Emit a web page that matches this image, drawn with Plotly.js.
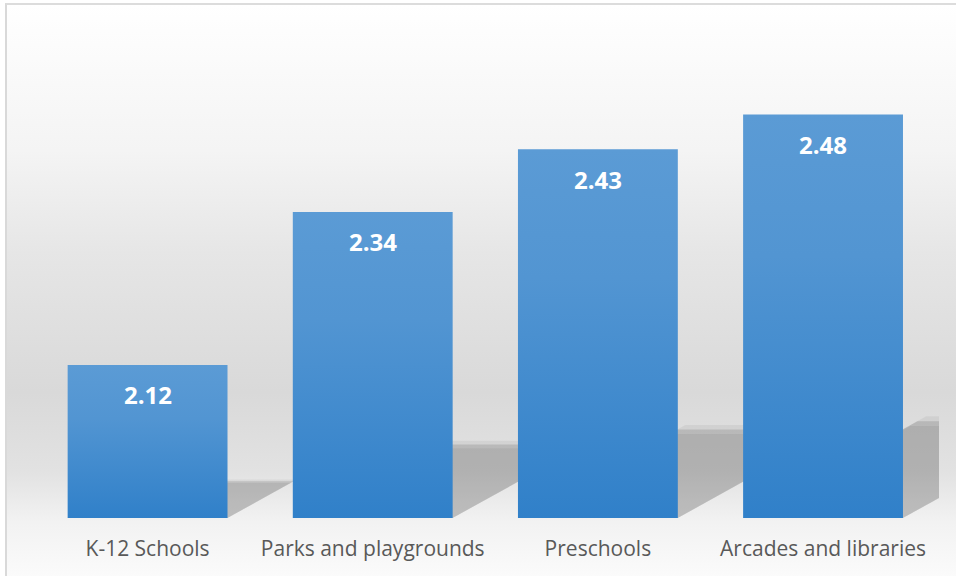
<!DOCTYPE html>
<html>
<head>
<meta charset="utf-8">
<script src="https://cdn.plot.ly/plotly-3.0.1.min.js"></script>
<style>
  html, body { margin: 0; padding: 0; background: #ffffff; }
  #frame {
    position: absolute; left: 5px; top: 3px; width: 951px; height: 573px;
    border-left: 2px solid #d9d9d9; border-top: 2px solid #dcdcdc;
    background: linear-gradient(to bottom,
      #ffffff 0px, #f4f4f4 145px, #e6e6e6 247px, #d9d9d9 387px,
      #e2e2e2 467px, #f2f2f2 517px, #fbfbfb 573px);
  }
  #chart { position: absolute; left: 0; top: 0; width: 956px; height: 576px; }
</style>
</head>
<body>
<div id="frame"></div>
<div id="chart"></div>
<script>
// ---- data ----
const categories = ["K-12 Schools", "Parks and playgrounds", "Preschools", "Arcades and libraries"];
const values = [2.12, 2.34, 2.43, 2.48];
const valueLabels = ["2.12", "2.34", "2.43", "2.48"];

// ---- layout constants ----
const axisMin = 1.9, axisMax = 2.6;
const barWidth = 0.71;
const xIdx = categories.map((_, i) => i);

const W = 956, H = 576;
const margin = {l: 35, r: 17, t: 31, b: 58};
const xRange = [-0.5, 3.515];
const pxPerX = (W - margin.l - margin.r) / (xRange[1] - xRange[0]);
const pxPerY = (H - margin.t - margin.b) / (axisMax - axisMin);

// perspective shadow polygons (decoration derived from the data)
const shapes = [];
const layers = [[1.0, 1.0, 0.12], [0.95, 0.96, 0.05], [1.05, 1.05, 0.05]];
values.forEach((v, i) => {
  const h = v - axisMin;
  const rise = 0.24 * h;
  const shiftPx = 1.8 * rise * pxPerY;
  const shift = shiftPx / pxPerX;
  const w = barWidth / 2;
  layers.forEach(([fr, fs, a]) => {
    const r = rise * fr, s = shift * fs;
    shapes.push({
      type: 'path', xref: 'x', yref: 'y', layer: 'below',
      path: `M ${i - w},${axisMin} L ${i + w},${axisMin} L ${i + w + s},${axisMin + r} L ${i - w + s},${axisMin + r} Z`,
      fillcolor: `rgba(0,0,0,${a})`, line: {width: 0}
    });
  });
});

const trace = {
  type: 'bar',
  x: xIdx,
  y: values.map(v => v - axisMin),
  base: values.map(() => axisMin),
  width: barWidth,
  marker: {color: '#4a8fd0', line: {width: 0}},
  hoverinfo: 'skip'
};

const annotations = values.map((v, i) => ({
  x: i, y: v, xref: 'x', yref: 'y',
  text: valueLabels[i], showarrow: false,
  yanchor: 'middle', yshift: -30,
  font: {family: 'Open Sans, sans-serif', size: 24, color: '#ffffff', weight: 700}
}));

const layout = {
  width: W, height: H,
  margin: margin,
  paper_bgcolor: 'rgba(0,0,0,0)',
  plot_bgcolor: 'rgba(0,0,0,0)',
  showlegend: false,
  xaxis: {
    range: xRange, tickvals: xIdx, ticktext: categories,
    showgrid: false, zeroline: false, showline: false, ticks: '',
    ticklabelstandoff: 16,
    tickfont: {family: 'Open Sans, sans-serif', size: 21, color: '#595959'},
    fixedrange: true
  },
  yaxis: {
    range: [axisMin, axisMax], showgrid: false, zeroline: false,
    showline: false, showticklabels: false, ticks: '', fixedrange: true
  },
  shapes: shapes,
  annotations: annotations
};

Plotly.newPlot('chart', [trace], layout, {displayModeBar: false, staticPlot: true}).then(gd => {
  const svg = gd.querySelector('.main-svg');
  const NS = 'http://www.w3.org/2000/svg';
  let defs = svg.querySelector('defs');
  if (!defs) { defs = document.createElementNS(NS, 'defs'); svg.insertBefore(defs, svg.firstChild); }
  const g = document.createElementNS(NS, 'linearGradient');
  g.setAttribute('id', 'barGrad');
  g.setAttribute('x1', '0'); g.setAttribute('y1', '0');
  g.setAttribute('x2', '0'); g.setAttribute('y2', '1');
  [['0', '#5b9bd5'], ['0.35', '#5295d2'], ['1', '#3080c9']].forEach(([o, c]) => {
    const s = document.createElementNS(NS, 'stop');
    s.setAttribute('offset', o); s.setAttribute('stop-color', c);
    g.appendChild(s);
  });
  defs.appendChild(g);
  gd.querySelectorAll('.bars .point path').forEach(p => { p.style.fill = 'url(#barGrad)'; });
});
</script>
</body>
</html>
